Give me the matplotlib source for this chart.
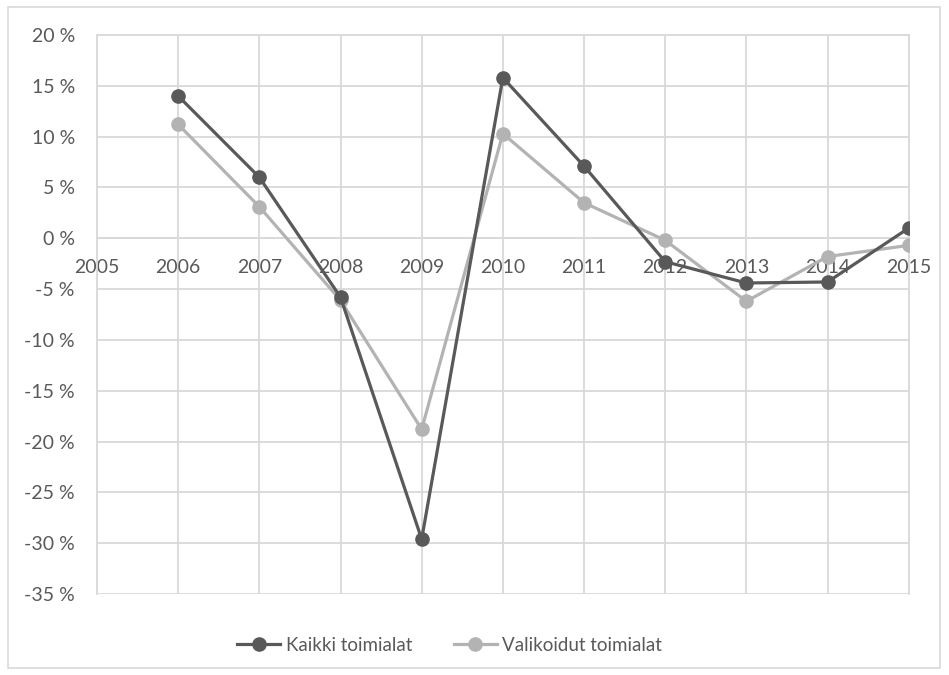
import matplotlib
matplotlib.use("Agg")
import matplotlib.pyplot as plt
from matplotlib.patches import Rectangle

plt.rcParams['font.family'] = ['Lato', 'DejaVu Sans']

years = [2006, 2007, 2008, 2009, 2010, 2011, 2012, 2013, 2014, 2015]
kaikki = [14.0, 6.0, -5.8, -29.6, 15.8, 7.1, -2.3, -4.4, -4.3, 1.0]
valikoidut = [11.2, 3.1, -6.1, -18.8, 10.3, 3.5, -0.2, -6.2, -1.8, -0.7]
x_ticks = list(range(2005, 2016))
y_ticks = list(range(-35, 25, 5))

grid_c = '#d9d9d9'
text_c = '#595959'

fig = plt.figure(figsize=(9.49, 6.75), dpi=100)
fig.add_artist(Rectangle((8 / 949, 7 / 675), 932 / 949, 661 / 675, transform=fig.transFigure,
                         facecolor='none', edgecolor=grid_c, linewidth=1.2))
ax = fig.add_axes([97 / 949, 1 - 594 / 675, (908.7 - 97) / 949, (594 - 35) / 675])

ax.plot(years, kaikki, color='#595959', lw=2.3, marker='o', ms=9.5, label='Kaikki toimialat', zorder=4)
ax.plot(years, valikoidut, color='#b3b3b3', lw=2.3, marker='o', ms=9.5, label='Valikoidut toimialat', zorder=3)

ax.set_xlim(2005, 2015)
ax.set_ylim(-35, 20)
ax.set_xticks(x_ticks)
ax.set_xticklabels([str(y) for y in x_ticks])
ax.set_yticks(y_ticks)
ax.set_yticklabels([f'{v} %' for v in y_ticks])
ax.grid(True, color=grid_c, linewidth=1.3, zorder=0)
ax.set_axisbelow(True)

for s in ['top', 'left', 'right']:
    ax.spines[s].set_color(grid_c)
    ax.spines[s].set_linewidth(1.3)
ax.spines['bottom'].set_position(('data', 0))
ax.spines['bottom'].set_color(grid_c)
ax.spines['bottom'].set_linewidth(1.3)

ax.tick_params(axis='both', length=0, colors=text_c, labelsize=14)
ax.tick_params(axis='x', pad=15)
ax.tick_params(axis='y', pad=16)

fig.legend(loc='center', bbox_to_anchor=(0.474, 0.044), ncol=2, frameon=False,
           fontsize=13.5, labelcolor=text_c, handlelength=2.3, handletextpad=0.3, columnspacing=2.2)

fig.savefig('out.png', dpi=100)
